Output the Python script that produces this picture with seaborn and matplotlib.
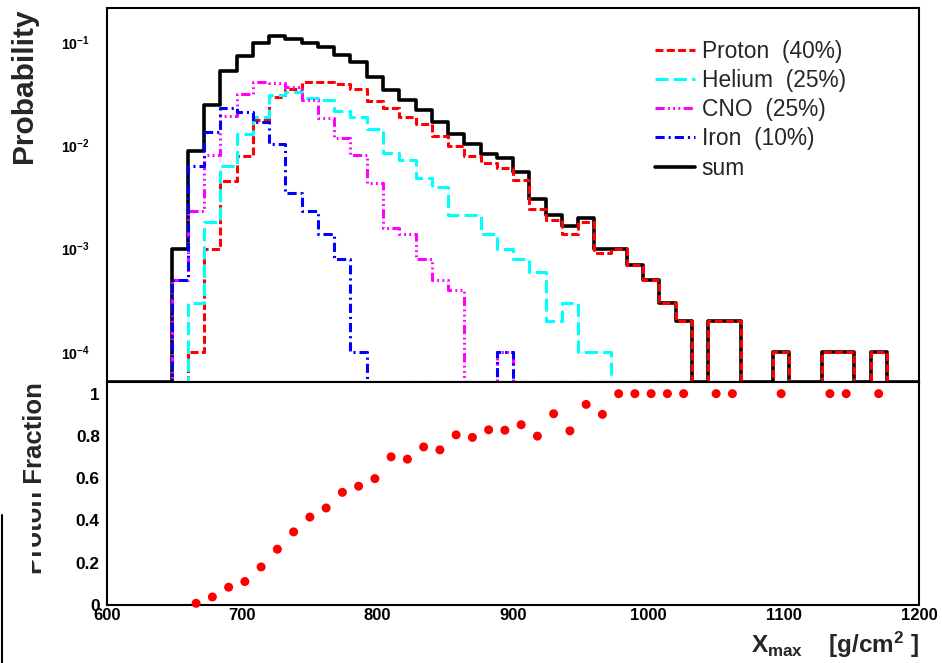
import numpy as np
import pandas as pd
import matplotlib
matplotlib.use("Agg")
import matplotlib.pyplot as plt
import matplotlib.ticker as mticker
from matplotlib.patches import Rectangle
from matplotlib.lines import Line2D
import seaborn as sns

# ---- binning of X_max (g/cm^2) ----
x_lo, x_hi, bin_width = 600, 1200, 12
first_bin = 648          # lower edge of the first listed bin

# ---- normalised X_max distributions, one value per 12 g/cm^2 bin from first_bin ----
prob_sum = [1.0e-3, 8.8e-3, 0.0246, 0.053, 0.0736, 0.098, 0.115, 0.109, 0.098, 0.090,
            0.076, 0.065, 0.046, 0.0344, 0.0279, 0.0223, 0.0169, 0.0130, 0.0103, 0.0082,
            0.0075, 0.0056, 0.0030, 0.00213, 0.00167, 0.00197, 0.0010, 0.0010, 0.0007, 0.0005,
            0.0003, 0.0002, 0, 0.0002, 0.0002, 0, 0, 0.0001, 0, 0,
            0.0001, 0.0001, 0, 0.0001]
prob_proton = [0, 1e-4, 0.0010, 0.0045, 0.0080, 0.0176, 0.0296, 0.0357, 0.0414, 0.0414,
               0.0394, 0.0357, 0.0271, 0.0233, 0.0189, 0.0163, 0.0124, 0.0100, 0.0079, 0.0067,
               0.0061, 0.0046, 0.0024, 0.0019, 0.0014, 0.0018, 0.0009, 0.0010, 0.0007, 0.0005,
               0.0003, 0.0002, 0, 0.0002, 0.0002, 0, 0, 0.0001, 0, 0,
               0.0001, 0.0001, 0, 0.0001]
prob_helium = [0, 3e-4, 0.0018, 0.0064, 0.013, 0.019, 0.031, 0.033, 0.029, 0.0275,
               0.0216, 0.0189, 0.0146, 0.0085, 0.0073, 0.0048, 0.0040, 0.0021, 0.0021, 0.0014,
               0.0010, 0.0008, 0.0006, 0.0002, 0.0003, 0.0001, 0.0001]
prob_cno = [5e-4, 0.0023, 0.0081, 0.0194, 0.0314, 0.041, 0.040, 0.037, 0.0275, 0.0183,
            0.0117, 0.0081, 0.0043, 0.0016, 0.0014, 0.0008, 0.0005, 0.0004, 0, 0,
            0.0001]
prob_iron = [5e-4, 0.0064, 0.0135, 0.0233, 0.0212, 0.0169, 0.0103, 0.0035, 0.0023, 0.0014,
             0.0008, 0.0001, 0, 0, 0, 0, 0, 0, 0, 0,
             0.0001]

labels = ["Proton  (40%)", "Helium  (25%)", "CNO  (25%)", "Iron  (10%)", "sum"]

# ---- proton fraction at bin centres ----
frac_x = [666, 678, 690, 702, 714, 726, 738, 750, 762, 774, 786, 798, 810, 822, 834, 846,
          858, 870, 882, 894, 906, 918, 930, 942, 954, 966, 978, 990, 1002, 1014, 1026,
          1050, 1062, 1098, 1134, 1146, 1170]
frac_y = [0.008, 0.038, 0.084, 0.111, 0.180, 0.264, 0.346, 0.416, 0.459, 0.533, 0.562,
          0.598, 0.701, 0.690, 0.748, 0.734, 0.805, 0.793, 0.829, 0.827, 0.853, 0.799,
          0.905, 0.824, 0.949, 0.902, 1, 1, 1, 1, 1, 1, 1, 1, 1, 1, 1]

# ---- style ----
sns.set_style("white")
plt.rcParams["font.family"] = ["Liberation Sans", "DejaVu Sans"]
plt.rcParams["mathtext.fontset"] = "custom"
plt.rcParams["mathtext.rm"] = "Liberation Sans:bold"
plt.rcParams["mathtext.it"] = "Liberation Sans:bold"
plt.rcParams["mathtext.bf"] = "Liberation Sans:bold"

y_min, y_max = 5.1e-5, 0.214
edges = np.arange(x_lo, x_hi + bin_width, bin_width)
n_bins = len(edges) - 1
start = (first_bin - x_lo) // bin_width


def step_frame(values):
    full = np.zeros(n_bins)
    full[start:start + len(values)] = values
    y = np.append(full, full[-1])
    # empty bins sit on the lower frame edge, as in a ROOT histogram
    y = np.maximum(y, y_min)
    return pd.DataFrame({"x": edges, "p": y})


series = [
    (prob_sum, "black", "-", 2.6),
    (prob_proton, "#ff0000", (0, (2.6, 1.1)), 2.2),
    (prob_helium, "#00ffff", (0, (4.3, 1.7)), 2.2),
    (prob_cno, "#ff00ff", (0, (3.0, 1.1, 0.6, 1.1, 0.6, 1.1, 0.6, 1.1)), 2.2),
    (prob_iron, "#0000ff", (0, (3.0, 1.3, 0.7, 1.3)), 2.2),
]

fig = plt.figure(figsize=(9.42, 6.63), dpi=100)
left, width = 0.1133, 0.8626
ax1 = fig.add_axes([left, 0.4238, width, 0.5637])
ax2 = fig.add_axes([left, 0.0875, width, 0.3363])

for vals, col, ls, lw in series:
    sns.lineplot(data=step_frame(vals), x="x", y="p", ax=ax1, color=col, linestyle=ls,
                 linewidth=lw, drawstyle="steps-post", estimator=None, sort=False,
                 legend=False)

ax1.set_yscale("log")
ax1.set_xlim(x_lo, x_hi)
ax1.set_ylim(y_min, y_max)
ax1.xaxis.set_major_locator(mticker.MultipleLocator(100))
ax1.xaxis.set_minor_locator(mticker.MultipleLocator(20))
ax1.yaxis.set_major_locator(mticker.LogLocator(base=10, numticks=10))
ax1.yaxis.set_minor_locator(mticker.LogLocator(base=10, subs=np.arange(2, 10), numticks=20))
ax1.yaxis.set_major_formatter(
    mticker.FuncFormatter(lambda v, _: r"$10^{%d}$" % int(round(np.log10(v)))))
ax1.yaxis.set_minor_formatter(mticker.NullFormatter())
ax1.tick_params(axis="both", which="both", direction="in", top=False, right=False,
                labelbottom=False, width=1.2, colors="black")
ax1.tick_params(axis="y", which="major", length=20, pad=12, labelsize=10.2)
ax1.tick_params(axis="y", which="minor", length=9.4)
ax1.tick_params(axis="x", which="major", length=8.6)
ax1.tick_params(axis="x", which="minor", length=4)
ax1.set_xlabel("")
ax1.set_ylabel("Probability", loc="top", fontsize=21.5, fontweight="bold")
ax1.yaxis.set_label_coords(-0.084, 1.0)

handles = [Line2D([], [], color=c, linestyle=ls, linewidth=lw) for _, c, ls, lw in series]
order = [1, 2, 3, 4, 0]
ax1.legend([handles[i] for i in order], labels, loc="upper left",
           bbox_to_anchor=(655 / 942, 1 - 40 / 663), bbox_transform=fig.transFigure,
           frameon=False, fontsize=16.4, handlelength=1.75, handletextpad=0.3,
           labelspacing=0.27, borderpad=0, borderaxespad=0)

# ---- proton fraction panel ----
sns.scatterplot(x=frac_x, y=frac_y, ax=ax2, color="#ff0000", s=42, edgecolor="none",
                clip_on=False, zorder=3)
ax2.set_xlim(x_lo, x_hi)
ax2.set_ylim(0, 1.055)
ax2.xaxis.set_major_locator(mticker.MultipleLocator(100))
ax2.xaxis.set_minor_locator(mticker.MultipleLocator(20))
ax2.yaxis.set_major_locator(mticker.MultipleLocator(0.2))
ax2.yaxis.set_minor_locator(mticker.MultipleLocator(0.05))
ax2.yaxis.set_major_formatter(mticker.FuncFormatter(lambda v, _: "%g" % round(v, 2)))
ax2.tick_params(axis="both", which="both", direction="in", top=False, right=False,
                width=1.2, colors="black")
ax2.tick_params(axis="y", which="major", length=18, pad=5, labelsize=12.4)
ax2.tick_params(axis="y", which="minor", length=9.4)
ax2.tick_params(axis="x", which="major", length=8.6, pad=2, labelsize=12)
ax2.tick_params(axis="x", which="minor", length=5)
for lab in ax2.get_xticklabels() + ax2.get_yticklabels():
    lab.set_fontweight("bold")
ax2.set_ylabel("Proton Fraction", loc="top", fontsize=18.5, fontweight="bold")
ax2.yaxis.set_label_coords(-0.074, 1.0)
ax2.set_xlabel(r"$X_{max}$    [g/cm$^{2}$ ]", loc="right", fontsize=17.5, fontweight="bold")
ax2.xaxis.set_label_coords(1.0, -0.11)

for ax in (ax1, ax2):
    for sp in ax.spines.values():
        sp.set_linewidth(1.5)
        sp.set_color("black")

# trimmed left margin of the lower panel
fig.patches.append(Rectangle((0, 0), 31.5 / 942, (663 - 489) / 663, transform=fig.transFigure,
                             facecolor="white", edgecolor="none", zorder=5))
fig.lines.append(Line2D([2 / 942, 2 / 942], [0, (663 - 515) / 663], transform=fig.transFigure,
                        color="black", linewidth=1.5, zorder=6))

fig.savefig("out.png", dpi=100)
